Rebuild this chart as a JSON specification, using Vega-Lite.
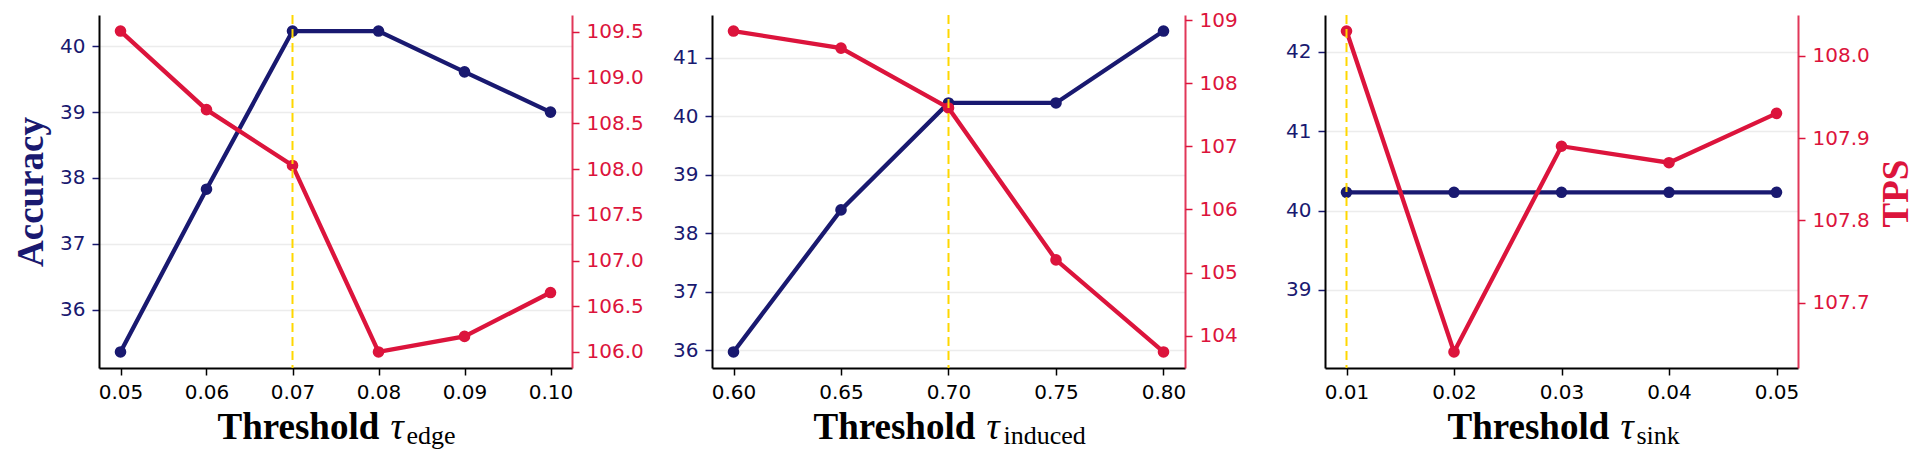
{
  "$schema": "https://vega.github.io/schema/vega-lite/v6.json",
  "background": "white",
  "padding": {"left": 12, "top": 10, "right": 5, "bottom": 5},
  "datasets": {
    "edge": [
      {"t": 0.05, "acc": 35.36, "tps": 109.51, "sel": false},
      {"t": 0.06, "acc": 37.83, "tps": 108.65, "sel": false},
      {"t": 0.07, "acc": 40.23, "tps": 108.04, "sel": true},
      {"t": 0.08, "acc": 40.23, "tps": 106.0, "sel": false},
      {"t": 0.09, "acc": 39.61, "tps": 106.17, "sel": false},
      {"t": 0.1, "acc": 39.0, "tps": 106.65, "sel": false}
    ],
    "induced": [
      {"t": 0.6, "acc": 35.97, "tps": 108.83, "sel": false},
      {"t": 0.65, "acc": 38.4, "tps": 108.56, "sel": false},
      {"t": 0.7, "acc": 40.23, "tps": 107.61, "sel": true},
      {"t": 0.75, "acc": 40.23, "tps": 105.2, "sel": false},
      {"t": 0.8, "acc": 41.46, "tps": 103.74, "sel": false}
    ],
    "sink": [
      {"t": 0.01, "acc": 40.23, "tps": 108.03, "sel": true},
      {"t": 0.02, "acc": 40.23, "tps": 107.64, "sel": false},
      {"t": 0.03, "acc": 40.23, "tps": 107.89, "sel": false},
      {"t": 0.04, "acc": 40.23, "tps": 107.87, "sel": false},
      {"t": 0.05, "acc": 40.23, "tps": 107.93, "sel": false}
    ]
  },
  "config": {
    "view": {"stroke": null},
    "axis": {
      "labelFont": "DejaVu Sans",
      "labelFontSize": 20,
      "labelPadding": 7,
      "labelFlush": false,
      "labelOverlap": false,
      "tickSize": 7,
      "tickWidth": 1.5,
      "domainWidth": 2,
      "titleFont": "Liberation Serif",
      "gridColor": "#ececec",
      "gridWidth": 1.5
    }
  },
  "bounds": "flush",
  "spacing": 140,
  "hconcat": [
    {
      "width": 473,
      "height": 353,
      "data": {"name": "edge"},
      "layer": [
        {
          "mark": {"type": "line", "color": "#191970", "strokeWidth": 4.3, "point": {"filled": true, "size": 135, "color": "#191970"}},
          "encoding": {
            "x": {"field": "t", "type": "quantitative", "scale": {"domain": [0.0475, 0.1025], "nice": false, "zero": false},
              "axis": {"orient": "bottom", "values": [0.05, 0.06, 0.07, 0.08, 0.09, 0.1], "format": ".2f", "grid": false, "labelColor": "black", "tickColor": "black", "domainColor": "black",
                "title": "Threshold", "titleColor": "black", "titleFontWeight": "bold", "titleFontSize": 37, "titleAlign": "left", "titleBaseline": "alphabetic", "titleX": 118, "titleY": 70}},
            "y": {"field": "acc", "type": "quantitative", "scale": {"domain": [35.1165, 40.4735], "nice": false, "zero": false},
              "axis": {"orient": "left", "values": [36, 37, 38, 39, 40], "format": ".0f", "grid": true, "labelColor": "#191970", "tickColor": "#191970", "domainColor": "black",
                "title": "Accuracy", "titleColor": "#191970", "titleFontWeight": "bold", "titleFontSize": 37, "titleAngle": 270, "titleAlign": "center", "titleBaseline": "alphabetic", "titleX": -57, "titleY": 176.5}}
          }
        },
        {
          "mark": {"type": "line", "color": "#DC143C", "strokeWidth": 4.3, "point": {"filled": true, "size": 135, "color": "#DC143C"}},
          "encoding": {
            "x": {"field": "t", "type": "quantitative", "scale": {"domain": [0.0475, 0.1025], "nice": false, "zero": false},
              "axis": {"orient": "bottom", "domain": false, "ticks": false, "labels": false, "grid": false,
                "title": "edge", "titleColor": "black", "titleFontWeight": "normal", "titleFontSize": 26, "titleAlign": "left", "titleBaseline": "alphabetic", "titleX": 307, "titleY": 75}},
            "y": {"field": "tps", "type": "quantitative", "scale": {"domain": [105.8245, 109.6855], "nice": false, "zero": false},
              "axis": {"orient": "right", "values": [106.0, 106.5, 107.0, 107.5, 108.0, 108.5, 109.0, 109.5], "format": ".1f", "grid": false, "labelColor": "#DC143C", "tickColor": "#DC143C", "domainColor": "#DC143C", "domainOpacity": 0.85, "title": null}}
          }
        },
        {
          "transform": [{"filter": "datum.sel"}],
          "mark": {"type": "rule", "color": "#FFD700", "strokeWidth": 2, "strokeDash": [9, 5]},
          "encoding": {
            "x": {"field": "t", "type": "quantitative", "scale": {"domain": [0.0475, 0.1025], "nice": false, "zero": false},
              "axis": {"orient": "bottom", "domain": false, "ticks": false, "labels": false, "grid": false,
                "title": "τ", "titleColor": "black", "titleFontWeight": "normal", "titleFontStyle": "italic", "titleFontSize": 37, "titleAlign": "left", "titleBaseline": "alphabetic", "titleX": 291, "titleY": 70}}
          }
        }
      ],
      "resolve": {"scale": {"y": "independent"}, "axis": {"x": "independent", "y": "independent"}}
    },
    {
      "width": 473,
      "height": 353,
      "data": {"name": "induced"},
      "layer": [
        {
          "mark": {"type": "line", "color": "#191970", "strokeWidth": 4.3, "point": {"filled": true, "size": 135, "color": "#191970"}},
          "encoding": {
            "x": {"field": "t", "type": "quantitative", "scale": {"domain": [0.59, 0.81], "nice": false, "zero": false},
              "axis": {"orient": "bottom", "values": [0.6, 0.65, 0.7, 0.75, 0.8], "format": ".2f", "grid": false, "labelColor": "black", "tickColor": "black", "domainColor": "black",
                "title": "Threshold", "titleColor": "black", "titleFontWeight": "bold", "titleFontSize": 37, "titleAlign": "left", "titleBaseline": "alphabetic", "titleX": 101, "titleY": 70}},
            "y": {"field": "acc", "type": "quantitative", "scale": {"domain": [35.6955, 41.7345], "nice": false, "zero": false},
              "axis": {"orient": "left", "values": [36, 37, 38, 39, 40, 41], "format": ".0f", "grid": true, "labelColor": "#191970", "tickColor": "#191970", "domainColor": "black", "title": null}}
          }
        },
        {
          "mark": {"type": "line", "color": "#DC143C", "strokeWidth": 4.3, "point": {"filled": true, "size": 135, "color": "#DC143C"}},
          "encoding": {
            "x": {"field": "t", "type": "quantitative", "scale": {"domain": [0.59, 0.81], "nice": false, "zero": false},
              "axis": {"orient": "bottom", "domain": false, "ticks": false, "labels": false, "grid": false,
                "title": "induced", "titleColor": "black", "titleFontWeight": "normal", "titleFontSize": 26, "titleAlign": "left", "titleBaseline": "alphabetic", "titleX": 291, "titleY": 75}},
            "y": {"field": "tps", "type": "quantitative", "scale": {"domain": [103.4855, 109.0845], "nice": false, "zero": false},
              "axis": {"orient": "right", "values": [104, 105, 106, 107, 108, 109], "format": ".0f", "grid": false, "labelColor": "#DC143C", "tickColor": "#DC143C", "domainColor": "#DC143C", "domainOpacity": 0.85, "title": null}}
          }
        },
        {
          "transform": [{"filter": "datum.sel"}],
          "mark": {"type": "rule", "color": "#FFD700", "strokeWidth": 2, "strokeDash": [9, 5]},
          "encoding": {
            "x": {"field": "t", "type": "quantitative", "scale": {"domain": [0.59, 0.81], "nice": false, "zero": false},
              "axis": {"orient": "bottom", "domain": false, "ticks": false, "labels": false, "grid": false,
                "title": "τ", "titleColor": "black", "titleFontWeight": "normal", "titleFontStyle": "italic", "titleFontSize": 37, "titleAlign": "left", "titleBaseline": "alphabetic", "titleX": 274, "titleY": 70}}
          }
        }
      ],
      "resolve": {"scale": {"y": "independent"}, "axis": {"x": "independent", "y": "independent"}}
    },
    {
      "width": 473,
      "height": 353,
      "data": {"name": "sink"},
      "layer": [
        {
          "mark": {"type": "line", "color": "#191970", "strokeWidth": 4.3, "point": {"filled": true, "size": 135, "color": "#191970"}},
          "encoding": {
            "x": {"field": "t", "type": "quantitative", "scale": {"domain": [0.008, 0.052], "nice": false, "zero": false},
              "axis": {"orient": "bottom", "values": [0.01, 0.02, 0.03, 0.04, 0.05], "format": ".2f", "grid": false, "labelColor": "black", "tickColor": "black", "domainColor": "black",
                "title": "Threshold", "titleColor": "black", "titleFontWeight": "bold", "titleFontSize": 37, "titleAlign": "left", "titleBaseline": "alphabetic", "titleX": 122, "titleY": 70}},
            "y": {"field": "acc", "type": "quantitative", "scale": {"domain": [38.018, 42.462], "nice": false, "zero": false},
              "axis": {"orient": "left", "values": [39, 40, 41, 42], "format": ".0f", "grid": true, "labelColor": "#191970", "tickColor": "#191970", "domainColor": "black", "title": null}}
          }
        },
        {
          "mark": {"type": "line", "color": "#DC143C", "strokeWidth": 4.3, "point": {"filled": true, "size": 135, "color": "#DC143C"}},
          "encoding": {
            "x": {"field": "t", "type": "quantitative", "scale": {"domain": [0.008, 0.052], "nice": false, "zero": false},
              "axis": {"orient": "bottom", "domain": false, "ticks": false, "labels": false, "grid": false,
                "title": "sink", "titleColor": "black", "titleFontWeight": "normal", "titleFontSize": 26, "titleAlign": "left", "titleBaseline": "alphabetic", "titleX": 311, "titleY": 75}},
            "y": {"field": "tps", "type": "quantitative", "scale": {"domain": [107.6205, 108.0495], "nice": false, "zero": false},
              "axis": {"orient": "right", "values": [107.7, 107.8, 107.9, 108.0], "format": ".1f", "grid": false, "labelColor": "#DC143C", "tickColor": "#DC143C", "domainColor": "#DC143C", "domainOpacity": 0.85,
                "title": "TPS", "titleColor": "#DC143C", "titleFontWeight": "bold", "titleFontSize": 37, "titleAngle": 270, "titleAlign": "center", "titleBaseline": "alphabetic", "titleX": 109, "titleY": 178}}
          }
        },
        {
          "transform": [{"filter": "datum.sel"}],
          "mark": {"type": "rule", "color": "#FFD700", "strokeWidth": 2, "strokeDash": [9, 5]},
          "encoding": {
            "x": {"field": "t", "type": "quantitative", "scale": {"domain": [0.008, 0.052], "nice": false, "zero": false},
              "axis": {"orient": "bottom", "domain": false, "ticks": false, "labels": false, "grid": false,
                "title": "τ", "titleColor": "black", "titleFontWeight": "normal", "titleFontStyle": "italic", "titleFontSize": 37, "titleAlign": "left", "titleBaseline": "alphabetic", "titleX": 295, "titleY": 70}}
          }
        }
      ],
      "resolve": {"scale": {"y": "independent"}, "axis": {"x": "independent", "y": "independent"}}
    }
  ]
}
